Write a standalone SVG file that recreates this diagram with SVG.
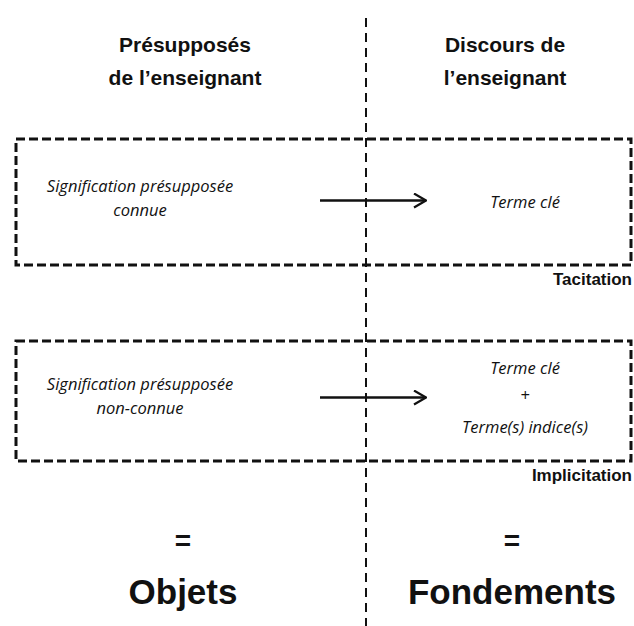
<svg xmlns="http://www.w3.org/2000/svg" width="634" height="626" viewBox="0 0 634 626">
<style>
.h{font-family:"Liberation Sans",Arial,sans-serif;font-weight:bold;font-size:21px;fill:#111;text-anchor:middle}
.i{font-family:"Open Sans","Liberation Sans",sans-serif;font-style:italic;font-size:16.5px;fill:#111;text-anchor:middle}
.s{font-family:"Liberation Sans",Arial,sans-serif;font-weight:bold;font-size:17px;fill:#111;text-anchor:end}
.b{font-family:"Liberation Sans",Arial,sans-serif;font-weight:bold;font-size:35px;fill:#111;text-anchor:middle}
.box{fill:none;stroke:#111;stroke-width:3;stroke-dasharray:9 4}
.v{stroke:#111;stroke-width:2;stroke-dasharray:9 6}
.a{stroke:#111;stroke-width:2.5;fill:none}
</style>
<defs>
<marker id="ar" viewBox="0 0 14 16" refX="13" refY="8" markerWidth="14" markerHeight="16" orient="auto" markerUnits="userSpaceOnUse">
<path d="M1,1 L13,8 L1,15" fill="none" stroke="#111" stroke-width="2.2"/>
</marker>
</defs>
<rect width="634" height="626" fill="#fff"/>
<g id="headers">
<text class="h" x="185" y="52">Présupposés</text>
<text class="h" x="185" y="85">de l’enseignant</text>
<text class="h" x="505" y="52">Discours de</text>
<text class="h" x="505" y="85">l’enseignant</text>
</g>
<g id="divider"><line class="v" x1="366" y1="18" x2="366" y2="626"/></g>
<g id="box1">
<rect class="box" x="16" y="139" width="615" height="126"/>
<text class="i" x="140" y="192">Signification présupposée</text>
<text class="i" x="140" y="216">connue</text>
<text class="i" x="525" y="208">Terme clé</text>
<text class="s" x="632" y="285">Tacitation</text>
</g>
<g id="box2">
<rect class="box" x="16" y="341" width="615" height="120"/>
<text class="i" x="140" y="390">Signification présupposée</text>
<text class="i" x="140" y="414">non-connue</text>
<text class="i" x="525" y="374">Terme clé</text>
<text class="i" x="525" y="401">+</text>
<text class="i" x="525" y="433">Terme(s) indice(s)</text>
<text class="s" x="632" y="481">Implicitation</text>
</g>
<g id="connectors">
<line class="a" x1="320" y1="200.5" x2="426" y2="200.5" marker-end="url(#ar)"/>
<line class="a" x1="320" y1="397.5" x2="426" y2="397.5" marker-end="url(#ar)"/>
</g>
<g id="bottom">
<text class="b" x="183" y="550" style="font-size:28px">=</text>
<text class="b" x="183" y="604">Objets</text>
<text class="b" x="512" y="550" style="font-size:28px">=</text>
<text class="b" x="512" y="604">Fondements</text>
</g>
</svg>
